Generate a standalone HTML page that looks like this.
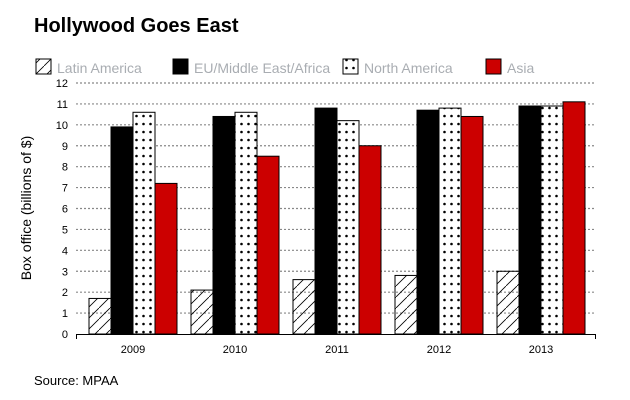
<!DOCTYPE html>
<html><head><meta charset="utf-8"><style>
body{margin:0;background:#fff;font-family:"Liberation Sans",Arial,sans-serif}
svg{display:block}
</style></head><body>
<svg width="630" height="400">
<defs>
<pattern id="hatch" width="11" height="11" patternUnits="userSpaceOnUse">
<path d="M-1,12 L12,-1" stroke="#000" stroke-width="0.8"/>
</pattern>
<pattern id="dots" width="7" height="8" patternUnits="userSpaceOnUse">
<rect width="7" height="8" fill="#fff"/><circle cx="3.5" cy="4" r="1.3" fill="#000"/>
</pattern>
</defs>
<text x="34" y="32" font-size="20" font-weight="bold">Hollywood Goes East</text>
<g id="legend"></g>
<g id="grid"></g>
<g id="bars"></g>
<g id="axes"></g>
<text transform="translate(31,208) rotate(-90)" text-anchor="middle" font-size="14">Box office (billions of $)</text>
<text x="34" y="385" font-size="13">Source: MPAA</text>
</svg>
<script>
const categories=["2009","2010","2011","2012","2013"];
const seriesNames=["Latin America","EU/Middle East/Africa","North America","Asia"];
const latinAmerica=[1.7,2.1,2.6,2.8,3.0];
const euMea=[9.9,10.4,10.8,10.7,10.9];
const northAmerica=[10.6,10.6,10.2,10.8,10.9];
const asia=[7.2,8.5,9.0,10.4,11.1];
const yTicks=[0,1,2,3,4,5,6,7,8,9,10,11,12];
const series=[latinAmerica,euMea,northAmerica,asia];
const fills=["url(#hatch)","#000","url(#dots)","#cc0000"];
const NS="http://www.w3.org/2000/svg";
function el(t,a,p){const e=document.createElementNS(NS,t);for(const k in a)e.setAttribute(k,a[k]);p.appendChild(e);return e;}
const y0=334,yTop=83,x0=76,x1=596;
const y=v=>y0-(y0-yTop)*v/12;
const cx=i=>133+102*i;
const bw=22;
const grid=document.getElementById('grid'),bars=document.getElementById('bars'),axes=document.getElementById('axes'),leg=document.getElementById('legend');
yTicks.forEach(t=>{
 if(t>0){const g=el('line',{x1:x0,x2:x1,y1:y(t),y2:y(t),stroke:'#888','stroke-width':1.2,'stroke-dasharray':'2,2'},grid);
 
 }
 const l=el('text',{x:68,y:y(t)+4,'text-anchor':'end','font-size':11},axes);l.textContent=t;
 
 
});
categories.forEach((c,i)=>{
 series.forEach((s,j)=>{
  const x=cx(i)-2*bw+j*bw;
  const r=el('rect',{x:x,y:y(s[i]),width:bw,height:y0-y(s[i]),fill:fills[j],stroke:'#000','stroke-width':1},bars);
  
  
 });
 const l=el('text',{x:cx(i),y:353,'text-anchor':'middle','font-size':11},axes);l.textContent=c;
 
 
});
const ax=el('line',{x1:x0,x2:x1,y1:y0+0.5,y2:y0+0.5,stroke:'#000','stroke-width':1},axes);


el('line',{x1:x0+0.5,x2:x0+0.5,y1:y0,y2:y0+5,stroke:'#000'},axes);
el('line',{x1:x1-0.5,x2:x1-0.5,y1:y0,y2:y0+5,stroke:'#000'},axes);
const lx=[36,173,343,486];
seriesNames.forEach((n,j)=>{
 const r=el('rect',{x:lx[j],y:59,width:15,height:15,fill:fills[j],stroke:'#000','stroke-width':1},leg);
 
 
 const t=el('text',{x:lx[j]+21,y:73,'font-size':14,fill:'#a9adb2'},leg);t.textContent=n;
 
 
});
</script>
</body></html>
